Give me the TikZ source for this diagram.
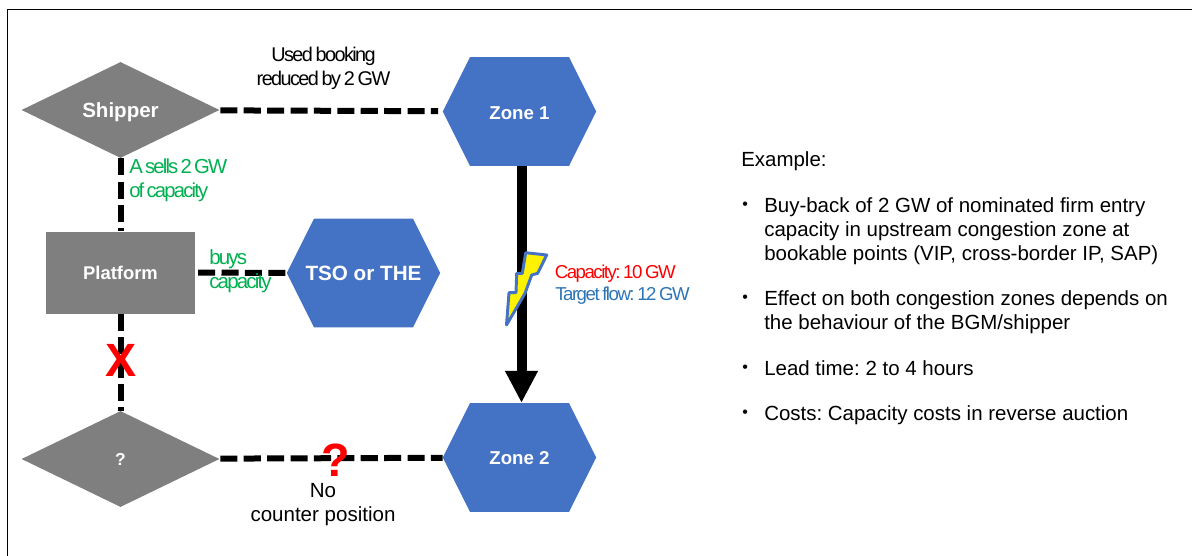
\documentclass[tikz,border=0pt]{standalone}
\usepackage{fontspec}
\setmainfont{Liberation Sans}
\newfontfamily\tightfont[LetterSpace=-8,WordSpace=0.7]{Liberation Sans}
\newfontfamily\tighterfont[LetterSpace=-9,WordSpace=0.6]{Liberation Sans}
\usetikzlibrary{shapes.geometric,shapes.symbols,arrows.meta}
\definecolor{greyshape}{HTML}{7F7F7F}
\definecolor{blueshape}{HTML}{4472C4}
\definecolor{greenlabel}{HTML}{00B050}
\definecolor{bluelabel}{HTML}{2E75B6}
\tikzset{
  x=0.75pt,y=-0.75pt,
  greydiamond/.style={diamond,fill=greyshape,inner sep=0pt,minimum width=148.5pt,minimum height=72pt,text=white,font=\bfseries\fontsize{15.4}{18}\selectfont},
  hexa/.style={signal,signal to=west and east,signal pointer angle=127,fill=blueshape,inner sep=0pt,minimum width=115pt,minimum height=81.5pt,text=white,font=\bfseries\fontsize{14}{16}\selectfont},
  dashline/.style={line width=4.5pt,dash pattern=on 12.8pt off 4.75pt},
  lab/.style={font=\fontsize{15.4}{18}\selectfont,align=center,inner sep=0pt},
  bodytext/.style={font=\fontsize{15.35}{18}\selectfont,align=left,anchor=west,inner sep=0pt},
  bulletmark/.style={font=\fontsize{12}{12}\selectfont,anchor=west,inner sep=0pt}
}
\begin{document}
\frenchspacing
\begin{tikzpicture}
\useasboundingbox (0,0) rectangle (1192,556);
\fill[white] (0,0) rectangle (1192,556);
\coordinate (frameBL) at (7.5,556);
\coordinate (frameTL) at (7.5,9.5);
\coordinate (frameTR) at (1192,9.5);
\draw[line width=1pt] (frameBL) -- (frameTL) -- (frameTR);

\node[greydiamond] (shipper) at (120.5,110) {\raisebox{-5.5pt}[0pt][0pt]{Shipper}};
\node[greydiamond,font=\bfseries\fontsize{13}{14}\selectfont] (unknown) at (120.5,459) {?};
\node[fill=greyshape,text=white,inner sep=0pt,minimum width=112pt,minimum height=61.5pt,font=\bfseries\fontsize{13.8}{14}\selectfont] (platform) at (120.5,272.5) {Platform};
\node[hexa] (zone1) at (519.5,111.5) {\rule{0pt}{12pt}Zone 1};
\node[hexa] (zone2) at (519.5,457.5) {\rule{0pt}{11pt}Zone 2};
\node[hexa] (tso) at (363.5,273) {\makebox[0pt]{\bfseries\fontsize{15.5}{18}\selectfont TSO or THE}};

\draw[dashline,shorten <=1pt,shorten >=3.5pt] (shipper) -- (zone1);
\draw[dashline,shorten <=1pt] (unknown) -- (zone2);
\draw[dashline] (shipper) -- (platform);
\draw[dashline] (platform) -- (unknown);
\draw[dashline,shorten <=2pt] (platform) -- (tso);
\draw[line width=7.5pt,-{Triangle[length=24pt,width=23pt]}] ([xshift=1.5pt]zone1.south) -- ([xshift=1.5pt]zone2.north);

\node[lab,font=\tightfont\fontsize{14.9}{18.2}\selectfont] (usedlabel) at (323.5,68) {Used booking\\reduced by 2 GW};
\node[lab,anchor=west,align=left,text=greenlabel,font=\tighterfont\fontsize{15.2}{18.2}\selectfont] (sellslabel) at (129,180) {A sells 2 GW\\of capacity};
\node[lab,anchor=west,align=left,text=greenlabel,font=\tighterfont\fontsize{15.4}{18.2}\selectfont] (buyslabel) at (209,271) {buys\\capacity};
\node[lab] (nolabel) at (323,504.5) {No\\counter position};

\node[text=red,inner sep=0pt,font=\bfseries\fontsize{35}{35}\selectfont] (xmark) at (121,360) {X};
\node[text=red,inner sep=0pt,font=\bfseries\fontsize{35}{35}\selectfont] (qmark) at (336,460) {?};

\draw[draw=blueshape,line width=2.2pt,line join=round,fill=yellow]
  (525.7,252.7) -- (546.7,255) -- (537.7,273.3) -- (531.7,275) -- (525,293.3) -- (506.5,325) -- (509,292.7) -- (516,292.7) -- (516.7,273.3) -- (522.3,273.3) -- cycle;

\node[lab,anchor=west,align=left,text=red,font=\tightfont\fontsize{14}{16}\selectfont] (caplabel) at (554.5,274) {Capacity: 10 GW};
\node[lab,anchor=west,align=left,text=bluelabel,font=\tightfont\fontsize{14}{16}\selectfont] (flowlabel) at (555,296) {Target flow: 12 GW};

\node[bodytext] (example) at (741,161) {Example:};
\node[bulletmark] (b1) at (742,206) {•};
\node[bodytext] (t1) at (764,231.5) {Buy-back of 2 GW of nominated firm entry\\capacity in upstream congestion zone at\\bookable points (VIP, cross-border IP, SAP)};
\node[bulletmark] (b2) at (742,299) {•};
\node[bodytext] (t2) at (764,312) {Effect on both congestion zones depends on\\the behaviour of the BGM/shipper};
\node[bulletmark] (b3) at (742,369) {•};
\node[bodytext] (t3) at (764,368) {Lead time: 2 to 4 hours};
\node[bulletmark] (b4) at (742,414) {•};
\node[bodytext] (t4) at (764,415) {Costs: Capacity costs in reverse auction};
\end{tikzpicture}
\end{document}
